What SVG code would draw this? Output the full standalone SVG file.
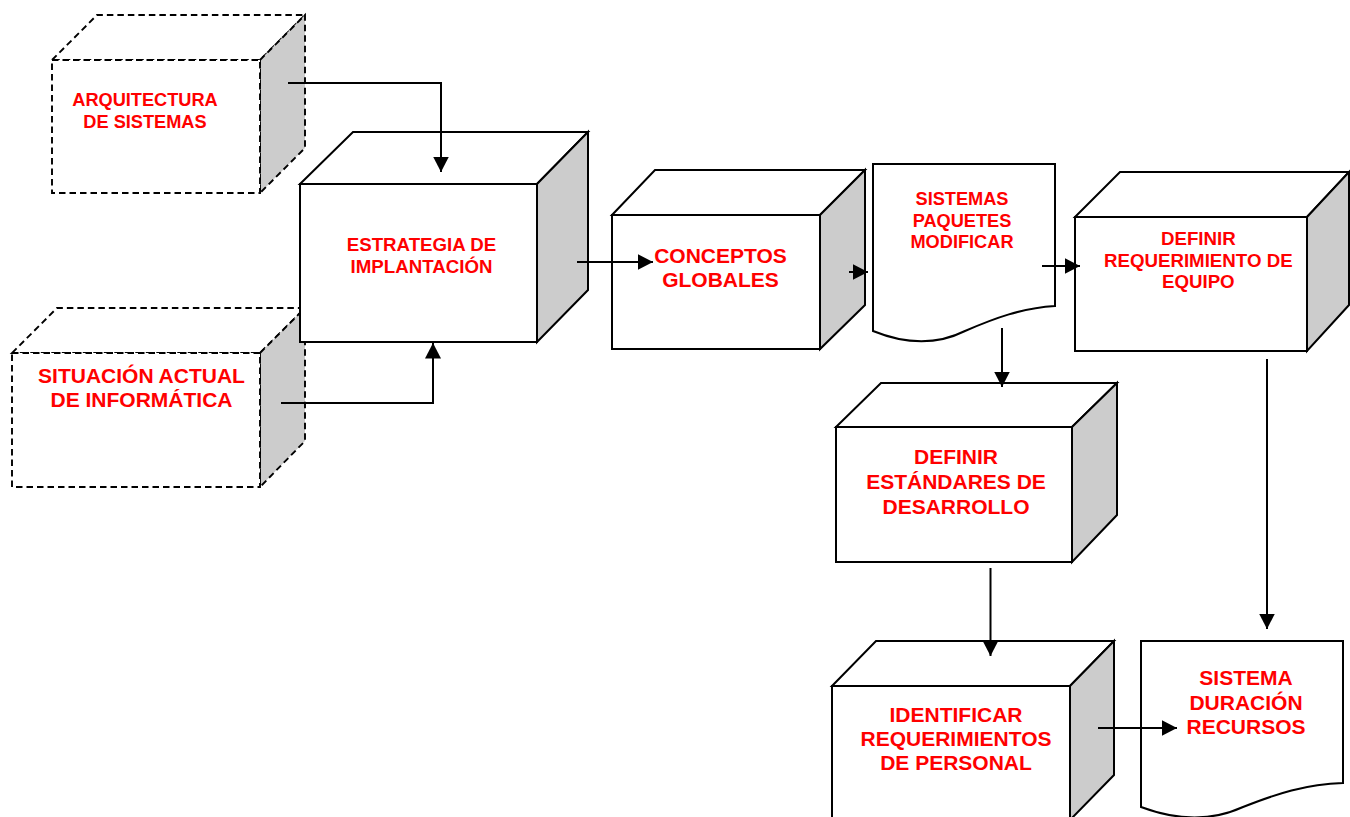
<svg xmlns="http://www.w3.org/2000/svg" width="1350" height="817" viewBox="0 0 1350 817">
  <style>
    .face { fill: #ffffff; stroke: #000000; stroke-width: 2; stroke-linejoin: miter; }
    .side { fill: #cccccc; stroke: #000000; stroke-width: 2; stroke-linejoin: miter; }
    .dashed .face, .dashed .side { stroke-width: 1.9; stroke-dasharray: 6.5 4; }
    .label { font-family: "Liberation Sans", Arial, sans-serif; font-weight: bold; fill: #ff0000; text-anchor: middle; }
    .sm { font-size: 18.2px; }
    .md { font-size: 18.7px; }
    .lg { font-size: 21px; }
    .conn { fill: none; stroke: #000000; stroke-width: 2; marker-end: url(#arrow); }
  </style>
  <defs>
    <marker id="arrow" markerUnits="userSpaceOnUse" markerWidth="16" markerHeight="16" refX="15.5" refY="8" orient="auto">
      <path d="M0,0 L15.5,8 L0,16 Z" fill="#000000"/>
    </marker>
  </defs>
  <rect x="0" y="0" width="1350" height="817" fill="#ffffff"/>

  <!-- dashed input cubes -->
  <g id="arquitectura" class="dashed">
    <polygon class="face" points="52,60 97,15 305,15 260,60"/>
    <polygon class="side" points="260,60 305,15 305,148 260,193"/>
    <rect class="face" x="52" y="60" width="208" height="133"/>
    <text class="label sm" x="145" y="106">ARQUITECTURA</text>
    <text class="label sm" x="145" y="127.5">DE SISTEMAS</text>
  </g>

  <g id="situacion" class="dashed">
    <polygon class="face" points="12,353 57,308 305,308 260,353"/>
    <polygon class="side" points="260,353 305,308 305,441 260,487"/>
    <rect class="face" x="12" y="353" width="248" height="134"/>
    <text class="label lg" x="141.5" y="383">SITUACIÓN ACTUAL</text>
    <text class="label lg" x="141.5" y="407">DE INFORMÁTICA</text>
  </g>

  <!-- solid process cubes -->
  <g id="estrategia">
    <polygon class="face" points="300,184 353,132 588,132 537,184"/>
    <polygon class="side" points="537,184 588,132 588,290 537,342"/>
    <rect class="face" x="300" y="184" width="237" height="158"/>
    <text class="label md" x="421.5" y="250.7">ESTRATEGIA DE</text>
    <text class="label md" x="421.5" y="272.7">IMPLANTACIÓN</text>
  </g>

  <g id="conceptos">
    <polygon class="face" points="612,215 655,170 865,170 820,215"/>
    <polygon class="side" points="820,215 865,170 865,305 820,349"/>
    <rect class="face" x="612" y="215" width="208" height="134"/>
    <text class="label lg" x="720.5" y="263.3">CONCEPTOS</text>
    <text class="label lg" x="720.5" y="287">GLOBALES</text>
  </g>

  <g id="sistemas-paquetes">
    <path class="face" d="M873,164 H1055 V306 C1022,308 995,318 965,331 C935,346 905,344 873,331 Z"/>
    <text class="label sm" x="962" y="205">SISTEMAS</text>
    <text class="label sm" x="962" y="226.5">PAQUETES</text>
    <text class="label sm" x="962" y="248">MODIFICAR</text>
  </g>

  <g id="requerimiento-equipo">
    <polygon class="face" points="1075,217 1120,172 1349,172 1307,217"/>
    <polygon class="side" points="1307,217 1349,172 1349,305 1307,351"/>
    <rect class="face" x="1075" y="217" width="232" height="134"/>
    <text class="label md" x="1198.3" y="245">DEFINIR</text>
    <text class="label md" x="1198.3" y="267">REQUERIMIENTO DE</text>
    <text class="label md" x="1198.3" y="288.3">EQUIPO</text>
  </g>

  <g id="estandares">
    <polygon class="face" points="836,427 881,383 1117,383 1072,427"/>
    <polygon class="side" points="1072,427 1117,383 1117,515 1072,562"/>
    <rect class="face" x="836" y="427" width="236" height="135"/>
    <text class="label lg" x="956" y="464">DEFINIR</text>
    <text class="label lg" x="956" y="489.3">ESTÁNDARES DE</text>
    <text class="label lg" x="956" y="514">DESARROLLO</text>
  </g>

  <g id="requerimientos-personal">
    <polygon class="face" points="832,686 876,641 1114,641 1070,686"/>
    <polygon class="side" points="1070,686 1114,641 1114,775 1070,820"/>
    <rect class="face" x="832" y="686" width="238" height="140"/>
    <text class="label lg" x="956" y="722">IDENTIFICAR</text>
    <text class="label lg" x="956" y="746">REQUERIMIENTOS</text>
    <text class="label lg" x="956" y="770">DE PERSONAL</text>
  </g>

  <g id="sistema-duracion">
    <path class="face" d="M1141,641 H1343 V783 C1306,784 1276,794 1243,807 C1210,822 1176,820 1141,807 Z"/>
    <text class="label lg" x="1246" y="685">SISTEMA</text>
    <text class="label lg" x="1246" y="710">DURACIÓN</text>
    <text class="label lg" x="1246" y="734">RECURSOS</text>
  </g>

  <!-- connectors -->
  <g id="connectors">
    <path class="conn" d="M288,83 H441 V172"/>
    <path class="conn" d="M281,403 H433 V343"/>
    <path class="conn" d="M577,262 H653"/>
    <path class="conn" d="M849,272 H868"/>
    <path class="conn" d="M1042,266 H1080"/>
    <path class="conn" d="M1002,328 V387"/>
    <path class="conn" d="M990.5,568 V656"/>
    <path class="conn" d="M1267,359 V629"/>
    <path class="conn" d="M1098,728 H1177"/>
  </g>
</svg>
